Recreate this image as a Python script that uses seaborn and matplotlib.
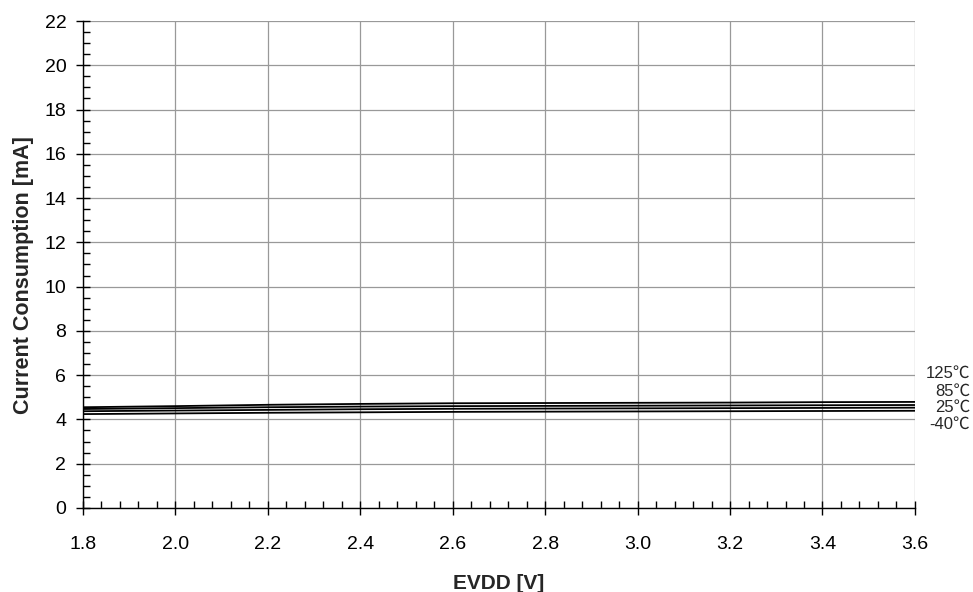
import numpy as np
import matplotlib.pyplot as plt
import seaborn as sns
import pandas as pd
from matplotlib.ticker import MultipleLocator

# Supply voltage sweep
evdd = [1.8, 2.0, 2.2, 2.4, 2.6, 2.8, 3.0, 3.2, 3.4, 3.6]

# Current consumption [mA] per temperature
i_125 = [4.55, 4.60, 4.66, 4.70, 4.73, 4.74, 4.75, 4.76, 4.78, 4.79]
i_85 = [4.47, 4.51, 4.55, 4.58, 4.60, 4.61, 4.62, 4.63, 4.64, 4.65]
i_25 = [4.37, 4.40, 4.43, 4.46, 4.48, 4.49, 4.50, 4.51, 4.52, 4.53]
i_m40 = [4.24, 4.27, 4.30, 4.32, 4.34, 4.35, 4.36, 4.37, 4.38, 4.39]

temps = ['125℃', '85℃', '25℃', '-40℃']

df = pd.DataFrame({
    'EVDD': evdd * 4,
    'I': i_125 + i_85 + i_25 + i_m40,
    'T': sum([[t] * len(evdd) for t in temps], []),
})

sns.set_style('white')
plt.rcParams['font.family'] = ['Liberation Sans', 'Noto Sans CJK JP', 'DejaVu Sans']

fig = plt.figure(figsize=(9.73, 5.92), dpi=100)
ax = fig.add_axes([0.0853, 0.142, 0.855, 0.8225])

sns.lineplot(data=df, x='EVDD', y='I', units='T', estimator=None,
             color='black', linewidth=1.3, ax=ax, legend=False)

ax.set_xlim(1.8, 3.6)
ax.set_ylim(0, 22)
ax.xaxis.set_major_locator(MultipleLocator(0.2))
ax.xaxis.set_minor_locator(MultipleLocator(0.04))
ax.yaxis.set_major_locator(MultipleLocator(2))
ax.yaxis.set_minor_locator(MultipleLocator(0.5))
ax.xaxis.set_major_formatter(plt.FormatStrFormatter('%.1f'))

ax.grid(True, which='major', color='#999999', linewidth=0.9)
for s in ['top', 'right']:
    ax.spines[s].set_visible(False)
for s in ['left', 'bottom']:
    ax.spines[s].set_color('black')
    ax.spines[s].set_linewidth(1.0)

ax.tick_params(which='major', direction='inout', length=10, width=1,
               labelsize=14, colors='black', left=True, bottom=True)
ax.tick_params(axis='x', which='major', pad=15)
ax.tick_params(axis='y', which='major', pad=7)
ax.tick_params(which='minor', direction='in', length=5, width=1,
               left=True, bottom=True, colors='black')

ax.set_xlabel('EVDD [V]', fontsize=15, fontweight='bold', labelpad=15)
ax.set_ylabel('Current Consumption [mA]', fontsize=15.5, fontweight='bold')
ax.yaxis.set_label_coords(-0.059, 0.478)

label_y = [373, 391, 407, 424]
for t, yp in zip(temps, label_y):
    fig.text(970 / 973, 1 - yp / 592, t, ha='right', va='center', fontsize=12)

fig.savefig('out.png', dpi=100)
